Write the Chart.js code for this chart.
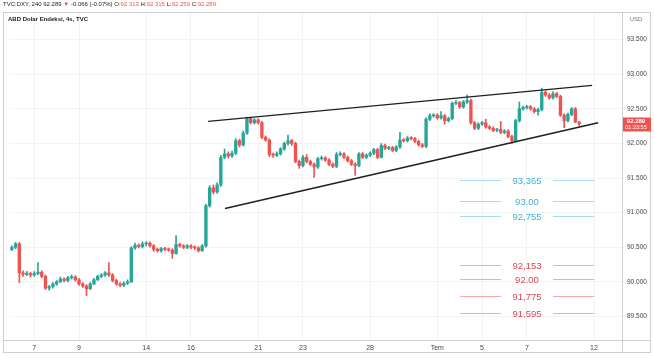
<!DOCTYPE html>
<html>
<head>
<meta charset="utf-8">
<script src="https://cdn.jsdelivr.net/npm/chart.js@4.4.1/dist/chart.umd.min.js"></script>
<style>
  body { margin: 0; background: #fff; font-family: "Liberation Sans", Arial, sans-serif; }
  #wrap { position: relative; width: 654px; height: 358px; overflow: hidden; }
  #header { position: absolute; left: 3px; top: 1px; font-size: 6px; color: #222; white-space: nowrap; }
  #header .r { color: #ef5350; }
  #title { position: absolute; left: 8px; top: 16px; font-size: 6px; font-weight: bold; color: #222; }
  #levels { position: absolute; left: 460px; top: 0; width: 134px; }
  .lv { position: absolute; left: 0; width: 134px; height: 12px; display: flex; align-items: center; font-size: 9.5px; }
  .lv span { width: 52px; text-align: center; }
  .lv i { flex: 1; height: 1px; }
</style>
</head>
<body>
<div id="wrap">
  <canvas id="chart" width="654" height="358"></canvas>
  <div id="header">TVC:DXY, 240 92.289 <span class="r">▼</span> -0.066 (-0.07%) O:<span class="r">92.313</span> H:<span class="r">92.315</span> L:<span class="r">92.259</span> C:<span class="r">92.289</span></div>
  <div id="title">ABD Dolar Endeksi, 4s, TVC</div>
  <div id="levels"></div>
</div>
<script>
// trading days, 6 four-hour candles each
const days = ['4','7','8','9','10','11','14','15','16','17','18','21','22','23','24','25','28','29','30','Tem','2','5','6','7','8','9','12']
const shownDays = [1, 3, 6, 8, 11, 13, 16, 19, 21, 23, 26]
const candlesPerDay = 6
const extraSlots = 2

const yTicks = [89.5, 90.0, 90.5, 91.0, 91.5, 92.0, 92.5, 93.0, 93.5]

const firstOpen = 90.47
const closes = [
  90.50, 90.55, 90.13, 90.11, 90.12, 90.10, 90.12, 90.14, 90.08, 89.91,
  89.93, 89.97, 90.00, 90.04, 90.02, 90.06, 90.07, 90.03, 89.97, 89.94,
  89.90, 89.97, 90.03, 90.08, 90.10, 90.13, 90.10, 90.02, 89.97, 89.95,
  89.98, 90.00, 90.49, 90.53, 90.51, 90.55, 90.56, 90.52, 90.47, 90.45,
  90.48, 90.47, 90.46, 90.41, 90.54, 90.52, 90.50, 90.52, 90.50, 90.49,
  90.45, 90.52, 91.10, 91.36, 91.30, 91.40, 91.80, 91.85, 91.82, 91.86,
  92.04, 91.98, 92.15, 92.36, 92.30, 92.34, 92.30, 92.09, 92.05, 91.84,
  91.83, 91.85, 91.92, 92.00, 92.04, 92.00, 91.74, 91.68, 91.80, 91.74,
  91.70, 91.66, 91.78, 91.79, 91.76, 91.70, 91.67, 91.84, 91.85, 91.80,
  91.75, 91.70, 91.68, 91.85, 91.80, 91.83, 91.86, 91.91, 91.80, 91.97,
  91.93, 91.94, 91.90, 91.95, 92.05, 92.04, 92.08, 92.07, 92.03, 91.98,
  91.96, 92.35, 92.40, 92.41, 92.37, 92.40, 92.33, 92.36, 92.58, 92.59,
  92.53, 92.60, 92.62, 92.30, 92.22, 92.28, 92.30, 92.24, 92.22, 92.19,
  92.20, 92.16, 92.18, 92.10, 92.04, 92.33, 92.50, 92.52, 92.53, 92.50,
  92.46, 92.49, 92.74, 92.70, 92.66, 92.72, 92.68, 92.41, 92.33, 92.42,
  92.50, 92.313, 92.289
]
const highs = [
  90.52, 90.57, 90.57, 90.16, 90.15, 90.14, 90.15, 90.28, 90.16, 90.10,
  89.95, 89.99, 90.02, 90.07, 90.06, 90.08, 90.10, 90.09, 90.05, 89.99,
  89.96, 89.99, 90.05, 90.10, 90.12, 90.15, 90.28, 90.12, 90.04, 89.99,
  90.00, 90.03, 90.51, 90.56, 90.55, 90.58, 90.58, 90.58, 90.54, 90.49,
  90.50, 90.50, 90.49, 90.48, 90.67, 90.56, 90.54, 90.54, 90.54, 90.52,
  90.51, 90.54, 91.12, 91.39, 91.40, 91.43, 91.83, 91.92, 91.88, 91.89,
  92.07, 92.06, 92.18, 92.38, 92.38, 92.36, 92.36, 92.32, 92.11, 92.07,
  91.86, 91.88, 91.94, 92.02, 92.12, 92.06, 92.02, 91.76, 91.83, 91.84,
  91.76, 91.72, 91.80, 91.82, 91.81, 91.78, 91.72, 91.87, 91.88, 91.87,
  91.82, 91.77, 91.72, 91.87, 91.87, 91.85, 91.88, 91.93, 91.93, 92.00,
  91.99, 91.96, 91.96, 91.97, 92.16, 92.07, 92.10, 92.10, 92.09, 92.05,
  92.00, 92.37, 92.43, 92.43, 92.43, 92.46, 92.42, 92.38, 92.60, 92.62,
  92.61, 92.62, 92.70, 92.64, 92.32, 92.30, 92.32, 92.35, 92.26, 92.24,
  92.22, 92.32, 92.20, 92.20, 92.12, 92.35, 92.60, 92.54, 92.55, 92.55,
  92.52, 92.51, 92.80, 92.76, 92.72, 92.75, 92.74, 92.70, 92.43, 92.44,
  92.52, 92.52, 92.315
]
const lows = [
  90.45, 90.48, 89.99, 90.08, 90.09, 90.07, 90.08, 90.10, 90.06, 89.89,
  89.88, 89.91, 89.95, 89.99, 90.00, 90.00, 90.04, 90.01, 89.95, 89.92,
  89.80, 89.89, 89.96, 90.02, 90.06, 90.08, 90.08, 90.00, 89.95, 89.93,
  89.93, 89.96, 89.99, 90.47, 90.49, 90.49, 90.52, 90.50, 90.44, 90.43,
  90.43, 90.45, 90.44, 90.34, 90.40, 90.50, 90.48, 90.48, 90.48, 90.47,
  90.43, 90.44, 90.50, 91.08, 91.27, 91.28, 91.38, 91.78, 91.79, 91.80,
  91.84, 91.95, 91.96, 92.13, 92.28, 92.28, 92.28, 92.07, 92.03, 91.81,
  91.80, 91.81, 91.83, 91.90, 91.98, 91.97, 91.72, 91.64, 91.66, 91.72,
  91.68, 91.51, 91.64, 91.76, 91.74, 91.68, 91.65, 91.65, 91.82, 91.78,
  91.73, 91.68, 91.54, 91.66, 91.78, 91.78, 91.81, 91.84, 91.78, 91.79,
  91.91, 91.91, 91.88, 91.88, 91.93, 92.02, 92.02, 92.05, 92.01, 91.96,
  91.94, 91.94, 92.33, 92.38, 92.35, 92.35, 92.28, 92.31, 92.34, 92.56,
  92.51, 92.51, 92.58, 92.28, 92.20, 92.20, 92.26, 92.22, 92.20, 92.17,
  92.17, 92.14, 92.14, 92.08, 92.00, 92.02, 92.31, 92.48, 92.50, 92.48,
  92.44, 92.41, 92.47, 92.68, 92.64, 92.64, 92.66, 92.39, 92.23, 92.31,
  92.40, 92.30, 92.259
]

// wedge lines: [candle index, price]
const upperLine = [[52.6, 92.32], [155.5, 92.84]]
const lowerLine = [[57.1, 91.06], [157.1, 92.30]]

// pasted level box
const levelLabels = ['93,365', '93.00', '92,755', '92,153', '92.00', '91,775', '91,595']
const levelSide = ['up', 'up', 'up', 'down', 'down', 'down', 'down']

const upColor = '#26a69a'
const downColor = '#ef5350'

const opens = closes.map((c, i) => i === 0 ? firstOpen : closes[i - 1])

const slotCount = days.length * candlesPerDay + extraSlots
const labels = []
for (let i = 0; i < slotCount; i++) {
  const d = Math.floor(i / candlesPerDay)
  labels.push(i % candlesPerDay === 0 && shownDays.includes(d) ? days[d] : '')
}

const candleColors = closes.map((c, i) => c >= opens[i] ? upColor : downColor)

// level box as html
const levelTops = [174, 195, 210, 259, 273, 290, 307]
const levelsBox = document.getElementById('levels')
levelLabels.forEach((txt, i) => {
  const row = document.createElement('div')
  row.className = 'lv'
  row.style.top = levelTops[i] + 'px'
  const up = levelSide[i] === 'up'
  row.style.color = up ? '#3fb0dc' : '#e0474c'
  const lineColor = up ? '#a9daee' : '#f2aaaa'
  const l1 = document.createElement('i')
  l1.style.background = lineColor
  const t = document.createElement('span')
  t.textContent = txt
  const l2 = document.createElement('i')
  l2.style.background = lineColor
  row.appendChild(l1)
  row.appendChild(t)
  row.appendChild(l2)
  levelsBox.appendChild(row)
})

const framePlugin = {
  id: 'frame',
  afterDraw(chart) {
    const ctx = chart.ctx
    const area = chart.chartArea
    const y = chart.scales.y
    ctx.save()
    ctx.strokeStyle = '#cfcfcf'
    ctx.lineWidth = 1
    ctx.strokeRect(3.5, 12.5, 647, 340)
    ctx.beginPath()
    ctx.moveTo(area.right + 0.5, 12)
    ctx.lineTo(area.right + 0.5, 352)
    ctx.moveTo(3, area.bottom + 0.5)
    ctx.lineTo(651, area.bottom + 0.5)
    ctx.stroke()

    ctx.fillStyle = '#777'
    ctx.font = '6px "Liberation Sans", Arial, sans-serif'
    ctx.textAlign = 'center'
    ctx.fillText('USD', 636, 21)

    // last price tag
    const last = closes[closes.length - 1]
    const py = y.getPixelForValue(last)
    ctx.fillStyle = downColor
    ctx.fillRect(area.right + 1, py - 6, 28, 14)
    ctx.fillStyle = '#fff'
    ctx.font = 'bold 6px "Liberation Sans", Arial, sans-serif'
    ctx.fillText(last.toFixed(3), 636, py)
    ctx.font = '5.5px "Liberation Sans", Arial, sans-serif'
    ctx.fillText('01:23:55', 636, py + 6)
    ctx.restore()
  }
}

new Chart(document.getElementById('chart').getContext('2d'), {
  type: 'bar',
  data: {
    labels: labels,
    datasets: [
      {
        label: 'wick',
        data: closes.map((c, i) => [lows[i], highs[i]]),
        backgroundColor: candleColors,
        barThickness: 1,
        grouped: false,
        order: 2
      },
      {
        label: 'body',
        data: closes.map((c, i) => [opens[i], c]),
        backgroundColor: candleColors,
        barThickness: 2.7,
        minBarLength: 1,
        grouped: false,
        order: 1
      },
      {
        type: 'line',
        label: 'upper',
        xAxisID: 'x2',
        data: upperLine.map(p => ({ x: p[0], y: p[1] })),
        borderColor: '#1f1f1f',
        borderWidth: 1.4,
        pointRadius: 0,
        order: 0
      },
      {
        type: 'line',
        label: 'lower',
        xAxisID: 'x2',
        data: lowerLine.map(p => ({ x: p[0], y: p[1] })),
        borderColor: '#1f1f1f',
        borderWidth: 1.4,
        pointRadius: 0,
        order: 0
      }
    ]
  },
  options: {
    responsive: false,
    animation: false,
    layout: { padding: { left: 10, right: 3, top: 12, bottom: 5 } },
    plugins: { legend: { display: false }, tooltip: { enabled: false } },
    scales: {
      x: {
        type: 'category',
        offset: true,
        border: { display: false },
        grid: {
          offset: false,
          drawTicks: false,
          color: c => labels[c.index] ? '#f2f2f2' : 'rgba(0,0,0,0)'
        },
        ticks: {
          autoSkip: false,
          maxRotation: 0,
          padding: 4,
          color: '#444',
          font: { size: 7, family: '"Liberation Sans", Arial, sans-serif' },
          callback: (v, i) => labels[i]
        },
        afterFit: s => { s.height = 13 }
      },
      x2: {
        type: 'linear',
        display: false,
        offset: false,
        min: -0.5,
        max: slotCount - 0.5
      },
      y: {
        position: 'right',
        min: 89.16,
        max: 93.9,
        border: { display: false },
        grid: { color: '#f4f4f4', drawTicks: false },
        afterBuildTicks: s => { s.ticks = yTicks.map(v => ({ value: v })) },
        ticks: {
          padding: 5,
          color: '#444',
          font: { size: 6.5, family: '"Liberation Sans", Arial, sans-serif' },
          callback: v => v.toFixed(3)
        },
        afterFit: s => { s.width = 29 }
      }
    }
  },
  plugins: [framePlugin]
})
</script>
</body>
</html>
